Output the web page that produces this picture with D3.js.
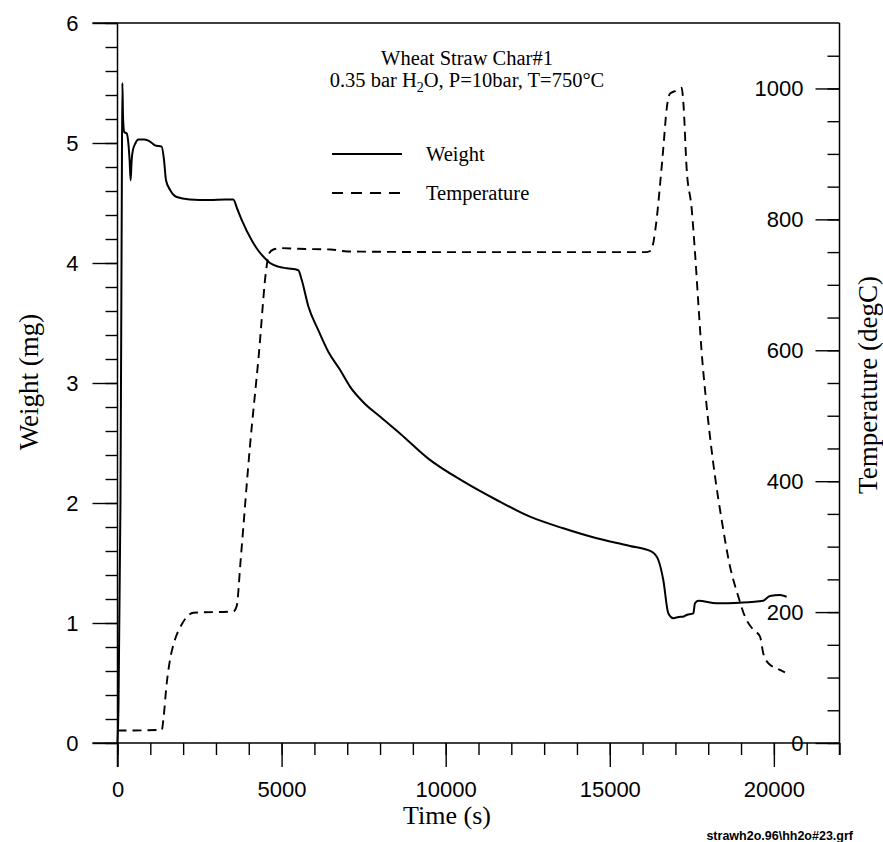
<!DOCTYPE html>
<html>
<head>
<meta charset="utf-8">
<script src="https://cdn.jsdelivr.net/npm/d3@7"></script>
<style>
  html, body { margin: 0; padding: 0; background: #fff; }
  svg { display: block; }
</style>
</head>
<body>
<svg id="chart" width="883" height="842"></svg>
<script>
// ---------------- DATA ----------------
const weightTime = [0, 30, 90, 130, 148, 170, 208, 280, 330, 370, 400, 430, 462, 550, 634, 800, 939, 1050, 1143, 1346, 1417, 1478, 1600, 1803, 2200, 2800, 3300, 3528, 3650, 3784, 4089, 4300, 4546, 4647, 4900, 5155, 5509, 5612, 5814, 6118, 6423, 6780, 7084, 7489, 7998, 8607, 9470, 10537, 11554, 12569, 13583, 14601, 15616, 16277, 16479, 16631, 16783, 16935, 17100, 17239, 17343, 17545, 17596, 17697, 18257, 18967, 19677, 19881, 20186, 20390];
const weightMg   = [0.0, 0.3, 2.0, 4.5, 5.5, 5.2, 5.09, 5.08, 5.0, 4.85, 4.69, 4.85, 4.93, 5.0, 5.03, 5.03, 5.02, 5.0, 4.98, 4.97, 4.86, 4.69, 4.61, 4.55, 4.53, 4.525, 4.53, 4.53, 4.45, 4.36, 4.19, 4.1, 4.025, 4.0, 3.97, 3.956, 3.94, 3.86, 3.64, 3.44, 3.26, 3.11, 2.97, 2.84, 2.72, 2.58, 2.37, 2.18, 2.025, 1.886, 1.789, 1.706, 1.642, 1.594, 1.525, 1.358, 1.081, 1.04, 1.05, 1.053, 1.067, 1.081, 1.164, 1.186, 1.164, 1.169, 1.186, 1.225, 1.233, 1.219];

const tempTime = [0, 1350, 1396, 1499, 1600, 1752, 1956, 2310, 3528, 3631, 3753, 4037, 4300, 4546, 4620, 4750, 5000, 5500, 6500, 7000, 10000, 16124, 16250, 16430, 16530, 16630, 16734, 16834, 16990, 17190, 17240, 17343, 17496, 17596, 17697, 17800, 17931, 18052, 18205, 18409, 18662, 18915, 19120, 19372, 19576, 19677, 19829, 20085, 20338];
const tempC    = [19, 20, 35, 91, 127, 158, 181, 199, 201, 209, 280, 454, 590, 729, 748, 754, 756, 755, 754, 751, 750, 750, 752, 801, 852, 908, 969, 992, 996, 1001, 980, 877, 816, 750, 673, 597, 525, 469, 408, 341, 270, 224, 193, 173, 163, 137, 122, 114, 108];

const xMajorTicks = [0, 5000, 10000, 15000, 20000];
const xMinorTicks = d3.range(0, 22001, 1000);
const wMajorTicks = [0, 1, 2, 3, 4, 5, 6];
const wMinorTicks = d3.range(0, 6.001, 0.2);
const tMajorTicks = [0, 200, 400, 600, 800, 1000];
const tMinorTicks = d3.range(0, 1100, 50);

const titleLine1 = "Wheat Straw Char#1";
const legendLabels = ["Weight", "Temperature"];
const xTitle = "Time (s)";
const yLeftTitle = "Weight (mg)";
const yRightTitle = "Temperature (degC)";
const footer = "strawh2o.96\\hh2o#23.grf";

// ---------------- LAYOUT ----------------
const svg = d3.select("#chart");
const mLeft = 117.5, mRight = 839.5, mTop = 23, mBottom = 743;

const x = d3.scaleLinear().domain([0, 22000]).range([mLeft, mRight]);
const yW = d3.scaleLinear().domain([0, 6]).range([mBottom, mTop]);
const yT = d3.scaleLinear().domain([0, 1100]).range([mBottom, mTop]);

const numFont = "'Liberation Sans', Arial, sans-serif";
const serif = "'Liberation Serif', 'Times New Roman', serif";

function styleAxis(g, fontSize) {
  g.select(".domain").remove();
  g.selectAll(".tick line").attr("stroke", "#000").attr("stroke-width", 1.4);
  g.selectAll(".tick text").attr("fill", "#000").attr("font-family", numFont).attr("font-size", fontSize);
}

// bottom axis
svg.append("g").attr("transform", `translate(0,${mBottom})`)
  .call(d3.axisBottom(x).tickValues(xMinorTicks).tickSize(12).tickFormat(""))
  .call(g => styleAxis(g, 22));
svg.append("g").attr("transform", `translate(0,${mBottom})`)
  .call(d3.axisBottom(x).tickValues(xMajorTicks).tickSize(24).tickPadding(14).tickFormat(d3.format("d")))
  .call(g => styleAxis(g, 22));

// left axis
svg.append("g").attr("transform", `translate(${mLeft},0)`)
  .call(d3.axisLeft(yW).tickValues(wMinorTicks).tickSize(12).tickFormat(""))
  .call(g => styleAxis(g, 22));
svg.append("g").attr("transform", `translate(${mLeft},0)`)
  .call(d3.axisLeft(yW).tickValues(wMajorTicks).tickSize(25).tickPadding(14).tickFormat(d3.format("d")))
  .call(g => styleAxis(g, 22));

// right axis (ticks inward)
svg.append("g").attr("transform", `translate(${mRight},0)`)
  .call(d3.axisLeft(yT).tickValues(tMinorTicks).tickSize(12).tickFormat(""))
  .call(g => styleAxis(g, 22));
svg.append("g").attr("transform", `translate(${mRight},0)`)
  .call(d3.axisLeft(yT).tickValues(tMajorTicks).tickSize(24).tickPadding(12).tickFormat(d3.format("d")))
  .call(g => styleAxis(g, 22));

// frame lines
const frame = svg.append("g").attr("stroke", "#000").attr("stroke-width", 1.5);
frame.append("line").attr("x1", mLeft - 25).attr("x2", mRight).attr("y1", mTop).attr("y2", mTop);
frame.append("line").attr("x1", mLeft - 25).attr("x2", mRight).attr("y1", mBottom).attr("y2", mBottom);
frame.append("line").attr("x1", mLeft).attr("x2", mLeft).attr("y1", mTop).attr("y2", mBottom + 24);
frame.append("line").attr("x1", mRight).attr("x2", mRight).attr("y1", mTop).attr("y2", mBottom + 12);

// data lines
const weightData = weightTime.map((t, i) => [t, weightMg[i]]);
const tempData = tempTime.map((t, i) => [t, tempC[i]]);

svg.append("path").datum(weightData)
  .attr("fill", "none").attr("stroke", "#000").attr("stroke-width", 2)
  .attr("stroke-linejoin", "round")
  .attr("d", d3.line().curve(d3.curveMonotoneX).x(d => x(d[0])).y(d => yW(d[1])));

svg.append("path").datum(tempData)
  .attr("fill", "none").attr("stroke", "#000").attr("stroke-width", 1.9)
  .attr("stroke-dasharray", "9,6")
  .attr("d", d3.line().curve(d3.curveMonotoneX).x(d => x(d[0])).y(d => yT(d[1])));

// title
svg.append("text").attr("x", 467).attr("y", 65).attr("text-anchor", "middle")
  .attr("font-family", serif).attr("font-size", 20.5).text(titleLine1);
const t2 = svg.append("text").attr("x", 467).attr("y", 87).attr("text-anchor", "middle")
  .attr("font-family", serif).attr("font-size", 20.5);
t2.append("tspan").text("0.35 bar H");
t2.append("tspan").attr("font-size", 14).attr("dy", 5).text("2");
t2.append("tspan").attr("dy", -5).text("O, P=10bar, T=750\u00B0C");

// legend
const legend = svg.append("g");
legend.append("line").attr("x1", 332).attr("x2", 402).attr("y1", 154).attr("y2", 154)
  .attr("stroke", "#000").attr("stroke-width", 2);
legend.append("line").attr("x1", 332).attr("x2", 402).attr("y1", 193).attr("y2", 193)
  .attr("stroke", "#000").attr("stroke-width", 1.9).attr("stroke-dasharray", "11,8");
legend.append("text").attr("x", 426).attr("y", 161).attr("font-family", serif).attr("font-size", 20.5).text(legendLabels[0]);
legend.append("text").attr("x", 426).attr("y", 200).attr("font-family", serif).attr("font-size", 20.5).text(legendLabels[1]);

// axis titles
svg.append("text").attr("x", 447).attr("y", 824).attr("text-anchor", "middle")
  .attr("font-family", serif).attr("font-size", 26).text(xTitle);
svg.append("text").attr("transform", "translate(38,382) rotate(-90)").attr("text-anchor", "middle")
  .attr("font-family", serif).attr("font-size", 27).text(yLeftTitle);
svg.append("text").attr("transform", "translate(877,385) rotate(-90)").attr("text-anchor", "middle")
  .attr("font-family", serif).attr("font-size", 27).text(yRightTitle);

// footer
svg.append("text").attr("x", 853).attr("y", 840).attr("text-anchor", "end")
  .attr("font-family", numFont).attr("font-size", 12.5).attr("font-weight", "bold").text(footer);
</script>
</body>
</html>
